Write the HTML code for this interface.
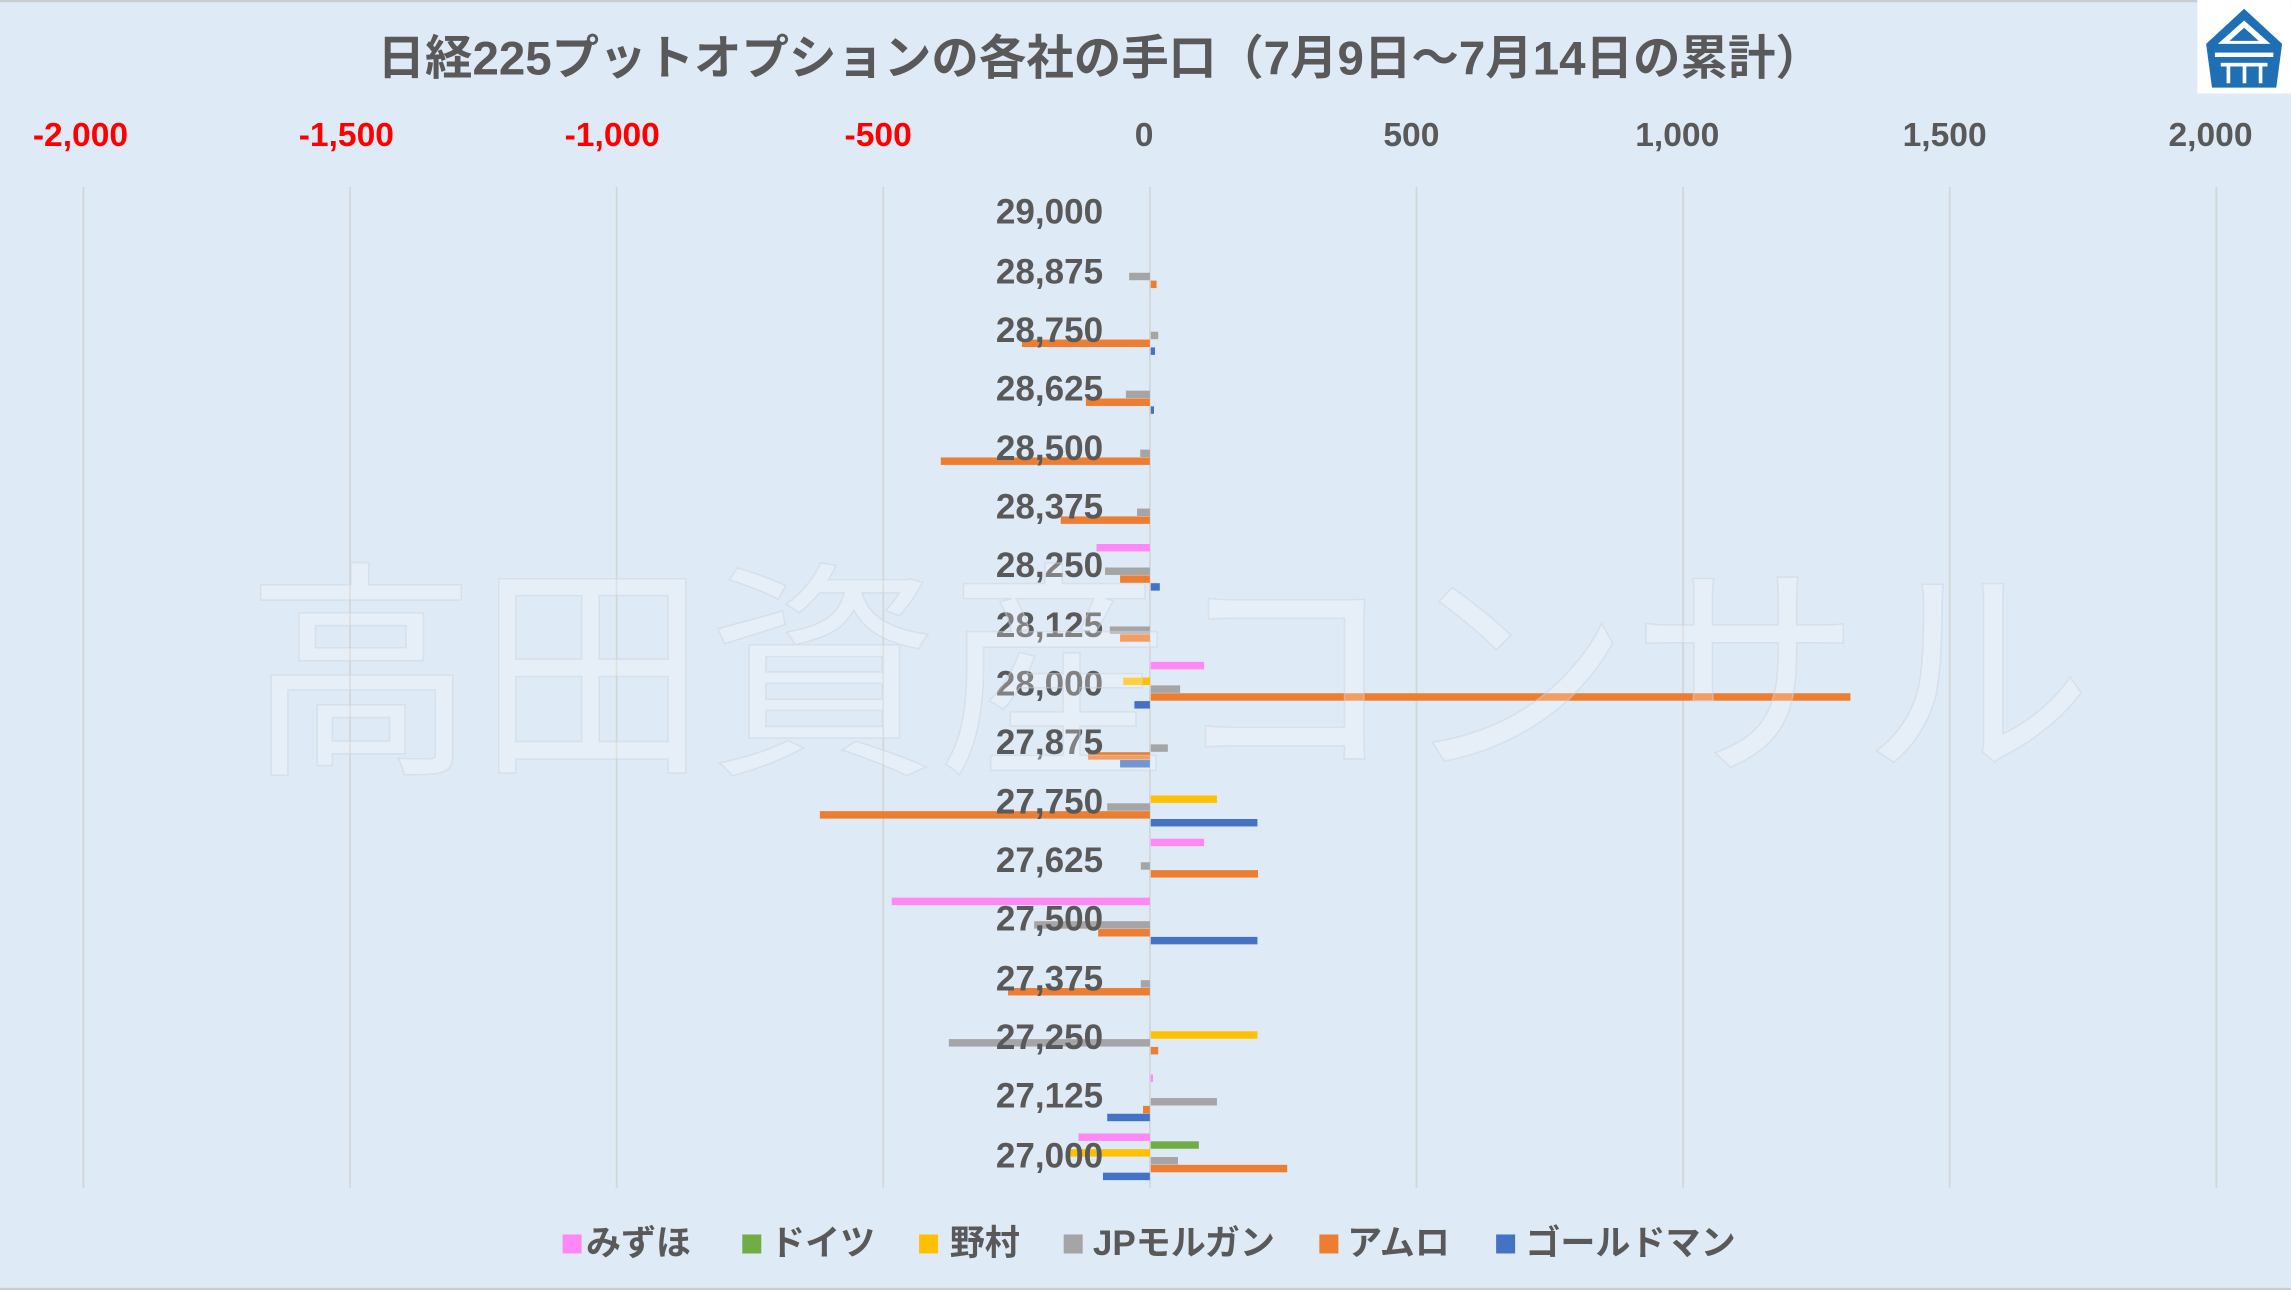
<!DOCTYPE html>
<html><head><meta charset="utf-8"><style>
html,body{margin:0;padding:0;background:#deeaf6;}
svg{display:block;}
text{font-family:"Liberation Sans","Noto Sans CJK JP",sans-serif;font-weight:bold;}
</style></head><body>
<svg id="s" width="2291" height="1290" viewBox="0 0 1568 883" xmlns="http://www.w3.org/2000/svg">
<rect x="0" y="0" width="1568" height="883" fill="#deeaf6"/>
<rect x="0" y="0" width="1568" height="1.5" fill="#c8cdd2"/>
<rect x="0" y="881.5" width="1568" height="1.5" fill="#c8cdd2"/>
<g id="grid" stroke="#d3d6d9" stroke-width="1.2">
<line x1="57" y1="128" x2="57" y2="813"/><line x1="239.5" y1="128" x2="239.5" y2="813"/>
<line x1="422" y1="128" x2="422" y2="813"/><line x1="604.5" y1="128" x2="604.5" y2="813"/>
<line x1="787" y1="128" x2="787" y2="813"/><line x1="969.5" y1="128" x2="969.5" y2="813"/>
<line x1="1152" y1="128" x2="1152" y2="813"/><line x1="1334.5" y1="128" x2="1334.5" y2="813"/>
<line x1="1517" y1="128" x2="1517" y2="813"/>
</g>
<text x="753" y="51" font-size="32.5" fill="#595959" text-anchor="middle">日経225プットオプションの各社の手口（7月9日～7月14日の累計）</text>
<g font-size="23" text-anchor="middle">
<text x="55" y="100" fill="#ff0000">-2,000</text>
<text x="237" y="100" fill="#ff0000">-1,500</text>
<text x="419" y="100" fill="#ff0000">-1,000</text>
<text x="601" y="100" fill="#ff0000">-500</text>
<text x="783" y="100" fill="#595959">0</text>
<text x="966" y="100" fill="#595959">500</text>
<text x="1148" y="100" fill="#595959">1,000</text>
<text x="1331" y="100" fill="#595959">1,500</text>
<text x="1513" y="100" fill="#595959">2,000</text>
</g>
<g id="bars"></g>
<g font-size="24" fill="#595959" text-anchor="end">
<text x="755" y="153">29,000</text>
<text x="755" y="194">28,875</text>
<text x="755" y="234">28,750</text>
<text x="755" y="274">28,625</text>
<text x="755" y="315">28,500</text>
<text x="755" y="355">28,375</text>
<text x="755" y="395">28,250</text>
<text x="755" y="436">28,125</text>
<text x="755" y="476">28,000</text>
<text x="755" y="516">27,875</text>
<text x="755" y="557">27,750</text>
<text x="755" y="597">27,625</text>
<text x="755" y="637">27,500</text>
<text x="755" y="678">27,375</text>
<text x="755" y="718">27,250</text>
<text x="755" y="758">27,125</text>
<text x="755" y="799">27,000</text>
</g>
<text x="800" y="518" font-size="158" fill="#ffffff" fill-opacity="0.25" stroke="#c9d3dd" stroke-opacity="0.5" stroke-width="1" text-anchor="middle" style="font-weight:normal">高田資産コンサル</text>
<g font-size="24" fill="#595959">
<rect x="385" y="845" width="13" height="13" fill="#ff88f6"/><text x="401" y="859">みずほ</text>
<rect x="508" y="845" width="13" height="13" fill="#70ad47"/><text x="527" y="859">ドイツ</text>
<rect x="629" y="845" width="13" height="13" fill="#ffc000"/><text x="650" y="859">野村</text>
<rect x="728" y="845" width="13" height="13" fill="#a5a5a5"/><text x="748" y="859">JPモルガン</text>
<rect x="903" y="845" width="13" height="13" fill="#ed7d31"/><text x="922" y="859">アムロ</text>
<rect x="1024" y="845" width="13" height="13" fill="#4472c4"/><text x="1044" y="859">ゴールドマン</text>
</g>
<rect x="1504" y="0" width="64" height="64" fill="#ffffff"/>
<polygon points="1536,6 1562,30 1558,60 1514,60 1510,30" fill="#1f6fb5"/>
<polygon points="1536,14 1554,30 1518,30" fill="#ffffff"/>
<polygon points="1536,19 1546,28 1526,28" fill="#1f6fb5"/>
<rect x="1516" y="36" width="40" height="3" fill="#fff"/>
<rect x="1520" y="43" width="32" height="2.5" fill="#fff"/>
<rect x="1524" y="45" width="2.5" height="12" fill="#fff"/>
<rect x="1535" y="45" width="2.5" height="12" fill="#fff"/>
<rect x="1546" y="45" width="2.5" height="12" fill="#fff"/>
</svg>
<script>
var cols=["#ff88f6","#70ad47","#ffc000","#a5a5a5","#ed7d31","#4472c4"];
var d=[
[0,0,0,0,0,0],
[0,0,0,-39,11,0],
[0,0,0,14,-240,8],
[0,0,0,-45,-120,6],
[0,0,0,-18,-392,0],
[0,0,0,-24,-167,0],
[-100,0,0,-84,-56,17],
[0,0,0,-75,-56,0],
[100,0,-50,55,1312,-29],
[0,0,0,32,-116,-56],
[0,0,124,-80,-619,200],
[100,0,0,-17,201,0],
[-484,0,0,-217,-97,200],
[0,0,0,-17,-266,0],
[0,0,200,-377,14,0],
[4,0,0,124,-13,-80],
[-134,90,-150,51,256,-88]];
var g=document.getElementById("bars"),h="";
for(var i=0;i<17;i++){var bt=126+40.35*i;for(var j=0;j<6;j++){var v=d[i][j];if(!v)continue;var w=v*0.365;var x=w<0?787+w:787.6;h+='<rect x="'+x.toFixed(1)+'" y="'+(bt+4.25+5.37*j).toFixed(2)+'" width="'+Math.abs(w).toFixed(1)+'" height="5.1" fill="'+cols[j]+'"/>';}}
g.innerHTML=h;
</script>
</body></html>
